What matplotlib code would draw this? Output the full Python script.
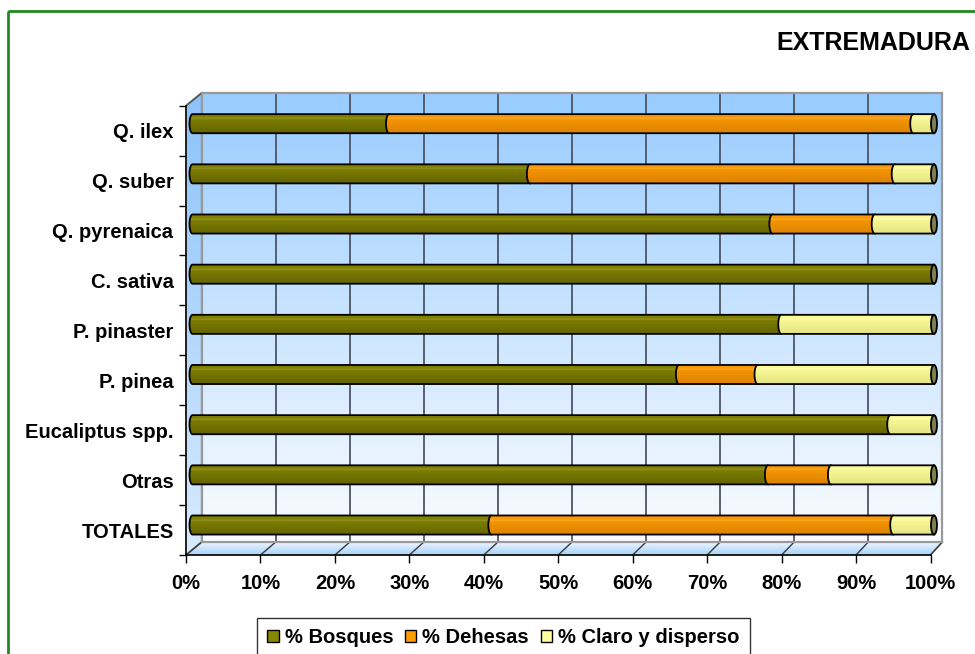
import numpy as np
import matplotlib
matplotlib.use("Agg")
import matplotlib.pyplot as plt
from matplotlib.path import Path
from matplotlib.patches import PathPatch, Ellipse, Polygon, Rectangle, ConnectionPatch, Patch

plt.rcParams['font.family'] = ['Liberation Sans', 'DejaVu Sans']
plt.rcParams['font.weight'] = 'bold'

# ---- data -------------------------------------------------------------
categories = ["Q. ilex", "Q. suber", "Q. pyrenaica", "C. sativa", "P. pinaster",
              "P. pinea", "Eucaliptus spp.", "Otras", "TOTALES"]
bosques = [26.5, 45.5, 78.2, 100.0, 79.4, 65.6, 94.1, 77.6, 40.3]
dehesas = [70.7, 49.2, 13.8, 0.0, 0.0, 10.6, 0.0, 8.5, 54.2]
claro = [2.8, 5.3, 8.0, 0.0, 20.6, 23.8, 5.9, 13.9, 5.5]
series_names = ["% Bosques", "% Dehesas", "% Claro y disperso"]
xtick_values = list(range(0, 101, 10))
xtick_labels = [f"{v}%" for v in xtick_values]
title = "EXTREMADURA"

# ---- layout (pixels, origin top-left) --------------------------------
W, H = 975, 654
FRONT = (186.0, 105.7, 930.5, 555.0)
BACK = (201.7, 93.0, 942.3, 542.0)
BARS = (192.5, 98.6, 934.0, 550.1)

def rect(box):
    x0, y0, x1, y1 = box
    return [x0 / W, 1 - y1 / H, (x1 - x0) / W, (y1 - y0) / H]

def hexrgb(h):
    h = h.lstrip('#')
    return np.array([int(h[i:i + 2], 16) for i in (0, 2, 4)]) / 255.0

def vgrad(top, bottom, n=64):
    t = np.linspace(0, 1, n)[:, None]
    return (hexrgb(top) * (1 - t) + hexrgb(bottom) * t)[:, None, :]

fig = plt.figure(figsize=(W / 100, H / 100), dpi=100)

# background scene: frame, side wall, floor
ax_bg = fig.add_axes([0, 0, 1, 1], zorder=0)
ax_bg.set_xlim(0, W)
ax_bg.set_ylim(H, 0)
ax_bg.axis('off')

ax_bg.add_patch(Rectangle((8, 11), 1100, 800, fill=False, ec='#1f8a1f', lw=2))

def grad_poly(pts, top, bottom, edge):
    poly = Polygon(pts, closed=True, fc='none', ec=edge, lw=1.2, zorder=2)
    ax_bg.add_patch(poly)
    xs = [p[0] for p in pts]
    ys = [p[1] for p in pts]
    im = ax_bg.imshow(vgrad(top, bottom), extent=(min(xs), max(xs), max(ys), min(ys)),
                      origin='upper', aspect='auto', interpolation='bilinear', zorder=1)
    im.set_clip_path(poly)

side = [(FRONT[0], FRONT[1]), (BACK[0], BACK[1]), (BACK[0], BACK[3]), (FRONT[0], FRONT[3])]
grad_poly(side, '#8cc3fb', '#d8ebff', '#8c8c8c')
floor = [(FRONT[0], FRONT[3]), (FRONT[2], FRONT[3]), (BACK[2], BACK[3]), (BACK[0], BACK[3])]
grad_poly(floor, '#eef6ff', '#a4d0fd', '#8c8c8c')
ax_bg.set_xlim(0, W)
ax_bg.set_ylim(H, 0)

# back wall with vertical grid
ax_back = fig.add_axes(rect(BACK), zorder=1)
ax_back.imshow(vgrad('#99ccff', '#fafcff'), extent=(0, 1, 0, 1), transform=ax_back.transAxes,
               origin='upper', aspect='auto', interpolation='bilinear', zorder=0)
ax_back.set_xlim(0, 100)
ax_back.set_ylim(-0.5, len(categories) - 0.5)
ax_back.set_xticks(xtick_values)
ax_back.set_yticks([])
ax_back.tick_params(length=0, labelbottom=False)
ax_back.grid(axis='x', color='#4c5566', lw=1.3)
for s in ax_back.spines.values():
    s.set_color('#999999')
    s.set_linewidth(1.6)

# front plane: axis lines, ticks and labels
ax_front = fig.add_axes(rect(FRONT), zorder=2)
ax_front.patch.set_visible(False)
ax_front.set_xlim(0, 100)
ax_front.set_ylim(-0.5, len(categories) - 0.5)
ypos = np.arange(len(categories))[::-1]
ax_front.set_yticks(ypos)
ax_front.set_yticklabels(categories)
ax_front.set_yticks(np.arange(-0.5, len(categories), 1.0), minor=True)
ax_front.tick_params(axis='y', which='major', length=0, pad=9, labelsize=14.5)
ax_front.tick_params(axis='y', which='minor', length=5, width=1, color='black')
ax_front.set_xticks(xtick_values)
ax_front.set_xticklabels(xtick_labels)
ax_front.tick_params(axis='x', which='major', length=6, width=1, pad=8, labelsize=14.5)
for name in ('top', 'right'):
    ax_front.spines[name].set_visible(False)
for name in ('left', 'bottom'):
    ax_front.spines[name].set_color('black')
    ax_front.spines[name].set_linewidth(1.1)

# floor grid lines joining the front axis ticks to the back wall grid
for v in xtick_values:
    con = ConnectionPatch(xyA=(v, -0.5), coordsA=ax_front.transData,
                          xyB=(v, -0.5), coordsB=ax_back.transData,
                          color='#3a3a3a', lw=1.0, zorder=0.5)
    fig.add_artist(con)
# top edge of the side wall
fig.add_artist(ConnectionPatch(xyA=(0, len(categories) - 0.5), coordsA=ax_front.transData,
                               xyB=(0, len(categories) - 0.5), coordsB=ax_back.transData,
                               color='#555555', lw=1.2, zorder=0.5))

# bars: stacked cylinders
ax_bars = fig.add_axes(rect(BARS), zorder=3)
ax_bars.patch.set_visible(False)
ax_bars.axis('off')

colors = {
    "% Bosques": ('#878700', '#646400', '#a5a545'),
    "% Dehesas": ('#ff9d05', '#dc8200', '#ffb84a'),
    "% Claro y disperso": ('#ffff9c', '#e4e482', '#ffffc8'),
}
cap_color = '#7e7e50'
bar_h = 0.38
px_per_unit = (BARS[2] - BARS[0]) / 100.0
rx = 3.0 / px_per_unit

def bar_gradient(light, dark, hi, n=60):
    t = np.linspace(0, 1, n)[:, None]
    base = hexrgb(light) * (1 - t) + hexrgb(dark) * t
    w = np.exp(-((t - 0.26) / 0.035) ** 2)
    return (base * (1 - 0.6 * w) + hexrgb(hi) * 0.6 * w)[:, None, :]

def seg_path(l, r, yc, h):
    th = np.linspace(np.pi / 2, 3 * np.pi / 2, 30)
    arc = list(zip(l + rx * np.cos(th), yc + (h / 2) * np.sin(th)))
    verts = [(r, yc + h / 2)] + arc + [(r, yc - h / 2), (r, yc + h / 2)]
    return Path(verts, closed=True)

values = [bosques, dehesas, claro]
left = np.zeros(len(categories))
z = 2
for name, vals in zip(series_names, values):
    light, dark, hi = colors[name]
    grad = bar_gradient(light, dark, hi)
    for j, v in enumerate(vals):
        if v <= 0:
            continue
        l, r, yc = left[j], left[j] + v, ypos[j]
        outline = PathPatch(seg_path(l, r, yc, bar_h), fc='none', ec='black', lw=1.3,
                            zorder=z + 1, clip_on=False)
        ax_bars.add_patch(outline)
        im = ax_bars.imshow(grad, extent=(l - rx, r, yc - bar_h / 2, yc + bar_h / 2),
                            origin='upper', aspect='auto', interpolation='bilinear', zorder=z)
        im.set_clip_path(outline)
        im.set_clip_box(fig.bbox)
    left = left + np.array(vals)
    z += 2

for j, total in enumerate(left):
    ax_bars.add_patch(Ellipse((total, ypos[j]), 2 * rx, bar_h, fc=cap_color, ec='black',
                              lw=1.3, zorder=z + 2, clip_on=False))
ax_bars.set_xlim(0, 100)
ax_bars.set_ylim(-0.5, len(categories) - 0.5)

# title and legend
fig.text(776 / W, 1 - 43 / H, title, ha='left', va='center', fontsize=18, fontweight='bold')

handles = [Patch(fc=colors[n][0], ec='black', lw=1) for n in series_names]
leg = fig.legend(handles, series_names, loc='upper center', bbox_to_anchor=(503.5 / W, 1 - 618 / H),
                 ncol=3, fontsize=14.5, frameon=True, fancybox=False, edgecolor='black',
                 handlelength=0.55, handleheight=0.55, handletextpad=0.3, columnspacing=0.6,
                 borderpad=0.5, borderaxespad=0)
leg.get_frame().set_linewidth(1.0)

fig.savefig('out.png', dpi=100)
